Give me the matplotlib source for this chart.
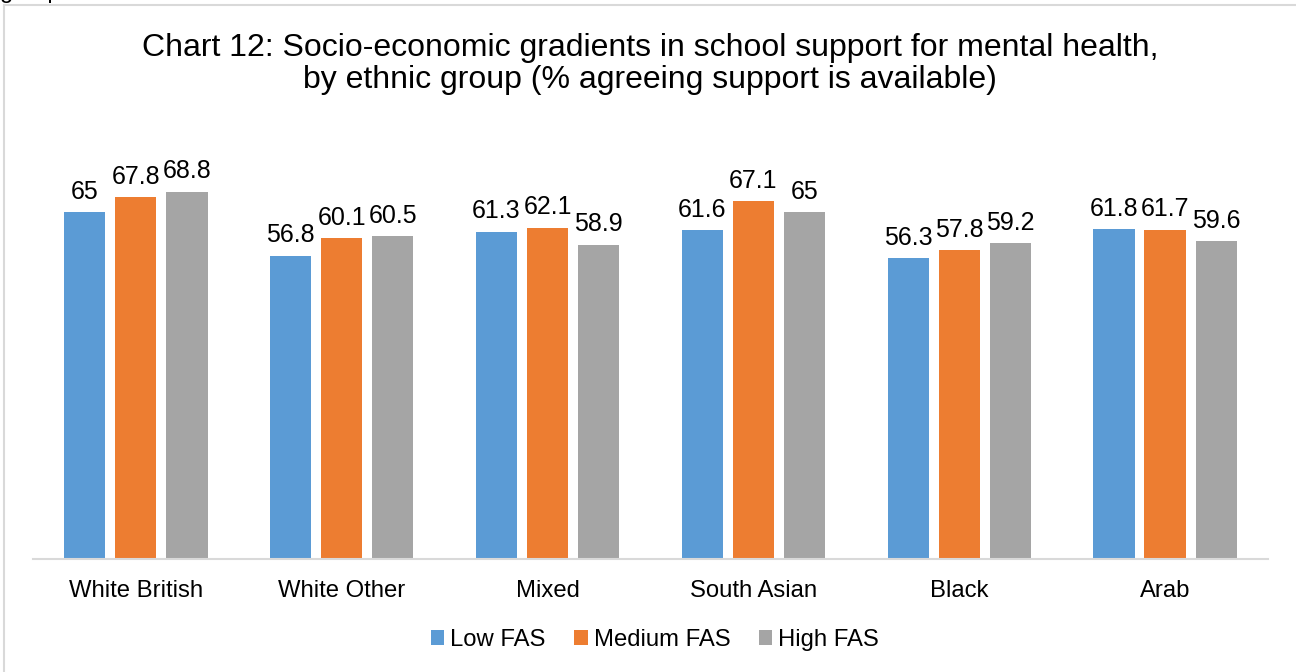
import matplotlib
matplotlib.use("Agg")
import matplotlib.pyplot as plt
import numpy as np
from matplotlib.lines import Line2D
from matplotlib.patches import Patch

categories = ["White British", "White Other", "Mixed", "South Asian", "Black", "Arab"]
series_names = ["Low FAS", "Medium FAS", "High FAS"]
low_fas = [65, 56.8, 61.3, 61.6, 56.3, 61.8]
medium_fas = [67.8, 60.1, 62.1, 67.1, 57.8, 61.7]
high_fas = [68.8, 60.5, 58.9, 65, 59.2, 59.6]
colors = ["#5B9BD5", "#ED7D31", "#A5A5A5"]
title = "Chart 12: Socio-economic gradients in school support for mental health,\nby ethnic group (% agreeing support is available)"

plt.rcParams["font.family"] = ["Liberation Sans", "DejaVu Sans"]

W, H = 1296, 672
fig = plt.figure(figsize=(W / 100, H / 100), dpi=100)

ax_left, ax_right = 33, 1268
ax_bottom, ax_top = 559, 132
ax = fig.add_axes([ax_left / W, 1 - ax_bottom / H, (ax_right - ax_left) / W, (ax_bottom - ax_top) / H])

x = np.arange(len(categories))
width = 0.2
pitch = 0.248
for i, (vals, name, c) in enumerate(zip([low_fas, medium_fas, high_fas], series_names, colors)):
    bars = ax.bar(x + (i - 1) * pitch, vals, width, color=c, label=name, zorder=2)
    ax.bar_label(bars, labels=[f"{v:g}" for v in vals], padding=6, fontsize=18, color="#000000")

ax.set_xlim(-0.5, len(categories) - 0.5)
ax.set_ylim(0, 80)
ax.set_xticks(x)
ax.set_xticklabels(categories, fontsize=17.2)
ax.tick_params(axis="x", length=0, pad=15)
ax.set_yticks([])
for s in ["top", "right", "left"]:
    ax.spines[s].set_visible(False)
ax.spines["bottom"].set_color("#D9D9D9")
ax.spines["bottom"].set_linewidth(1.5)
ax.spines["bottom"].set_zorder(3)

fig.text(650 / W, 1 - 64 / H, title, ha="center", va="center", fontsize=23, linespacing=1.13)

handles = [Patch(facecolor=c, edgecolor="none") for c in colors]
fig.legend(handles, series_names, loc="center", bbox_to_anchor=(655 / W, 1 - 640 / H), ncol=3,
           frameon=False, fontsize=17.2, handlelength=0.55, handleheight=0.55, handletextpad=0.25,
           columnspacing=1.2)

# chart border (partially visible)
fig.add_artist(Line2D([4 / W, 1], [1 - 5 / H, 1 - 5 / H], color="#D9D9D9", lw=1.5))
fig.add_artist(Line2D([4 / W, 4 / W], [0, 1 - 5 / H], color="#D9D9D9", lw=1.5))

# clipped text from above the chart
fig.text(0 / W, 1 + 2 / H, "group", ha="left", va="baseline", fontsize=17)

fig.savefig("out.png", dpi=100)
